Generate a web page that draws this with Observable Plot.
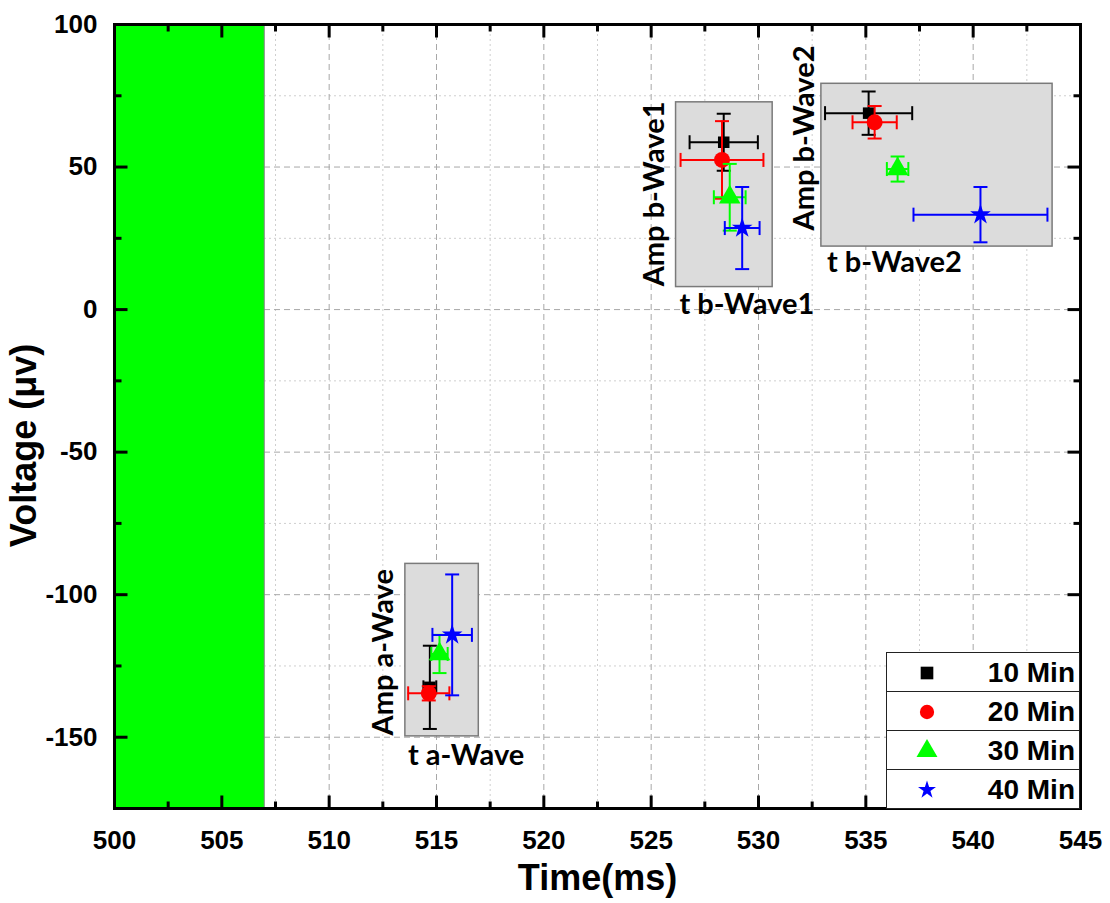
<!DOCTYPE html>
<html><head><meta charset="utf-8">
<script src="https://cdn.jsdelivr.net/npm/d3@7"></script>
<script src="https://cdn.jsdelivr.net/npm/@observablehq/plot@0.6"></script>
<style>
body{margin:0;background:#fff;}
#wrap{position:relative;width:1110px;height:903px;}
.legrow{position:absolute;box-sizing:border-box;border:1.5px solid #222;background:#fff;height:40px;}
.legrow svg{position:absolute;left:25px;top:4px;}
.legrow span{position:absolute;right:4px;top:1px;font:bold 28px "Liberation Sans",Arial,sans-serif;line-height:38px;color:#000;}
</style></head><body><div id="wrap"></div>
<script>
// ---------- data ----------
const waves = ["a-Wave", "b-Wave1", "b-Wave2"];
const seriesNames = ["10 Min", "20 Min", "30 Min", "40 Min"];
const seriesColors = ["#000000", "#ff0000", "#00ff00", "#0000ff"];
const seriesSymbols = ["square", "circle", "triangle", "star"];

// implicit time (ms) per wave, with error
const t10 = [514.69, 528.38, 535.13];
const t10Err = [0.30, 1.59, 2.03];
const t20 = [514.64, 528.30, 535.41];
const t20Err = [0.96, 1.93, 1.03];
const t30 = [515.14, 528.66, 536.48];
const t30Err = [0.38, 0.74, 0.50];
const t40 = [515.73, 529.24, 540.34];
const t40Err = [0.92, 0.81, 3.12];

// amplitude (µV) per wave, with error
const amp10 = [-132.5, 58.7, 68.9];
const amp10Err = [14.6, 10.0, 7.6];
const amp20 = [-134.6, 52.5, 65.7];
const amp20Err = [2.5, 13.6, 5.7];
const amp30 = [-120.8, 39.4, 49.3];
const amp30Err = [6.7, 11.7, 4.4];
const amp40 = [-114.1, 28.6, 33.3];
const amp40Err = [21.2, 14.4, 9.7];

// grey highlight boxes per wave
const boxX1 = [513.55, 526.16, 532.93];
const boxX2 = [516.97, 530.66, 543.70];
const boxY1 = [-149.7, 7.9, 22.1];
const boxY2 = [-89.2, 72.7, 79.2];

// annotation labels
const ampLabels = ["Amp a-Wave", "Amp b-Wave1", "Amp b-Wave2"];
const ampLabelX = [512.53, 525.15, 532.13];
const ampLabelY = [-120.2, 40.6, 60.2];
const tLabels = ["t a-Wave", "t b-Wave1", "t b-Wave2"];
const tLabelX = [516.38, 529.46, 536.33];
const tLabelY = [-156.6, 1.8, 16.5];

// shaded stimulus band
const bandX = [500, 507];

// axes
const xDomain = [500, 545];
const yDomain = [-175, 100];
const xMajor = [500, 505, 510, 515, 520, 525, 530, 535, 540, 545];
const xMinor = [502.5, 507.5, 512.5, 517.5, 522.5, 527.5, 532.5, 537.5, 542.5];
const yMajor = [-150, -100, -50, 0, 50, 100];
const yMinor = [-125, -75, -25, 25, 75];
const xTitle = "Time(ms)";
const yTitle = "Voltage (\u03bcv)";

// ---------- build ----------
const tAll = [t10, t20, t30, t40], tErrAll = [t10Err, t20Err, t30Err, t40Err];
const aAll = [amp10, amp20, amp30, amp40], aErrAll = [amp10Err, amp20Err, amp30Err, amp40Err];
const series = seriesNames.map((name, s) => ({
  name, color: seriesColors[s], symbol: seriesSymbols[s],
  rows: waves.map((w, i) => ({wave: w, t: tAll[s][i], te: tErrAll[s][i], a: aAll[s][i], ae: aErrAll[s][i]}))
}));
const boxes = waves.map((w, i) => ({x1: boxX1[i], x2: boxX2[i], y1: boxY1[i], y2: boxY2[i]}));
const ampL = ampLabels.map((l, i) => ({l, x: ampLabelX[i], y: ampLabelY[i]}));
const tL = tLabels.map((l, i) => ({l, x: tLabelX[i], y: tLabelY[i]}));

const seg = (dx1, dy1, dx2, dy2) => ({draw(ctx) { ctx.moveTo(dx1, dy1); ctx.lineTo(dx2, dy2); }});
const capH = seg(-7, 0, 7, 0);
const capV = seg(0, -7, 0, 7);
const MAJ = 13, MIN = 7;
const symR = {square: 6.5, circle: 8, triangle: 8, star: 6.5};

const tickMarks = [];
for (const [vals, len] of [[xMajor, MAJ], [xMinor, MIN]]) {
  tickMarks.push(Plot.dot(vals, {x: d => d, y: () => yDomain[0], symbol: seg(0, 0, 0, -len), r: 5, stroke: "black", strokeWidth: 3, fill: "none"}));
  tickMarks.push(Plot.dot(vals, {x: d => d, y: () => yDomain[1], symbol: seg(0, 0, 0, len), r: 5, stroke: "black", strokeWidth: 3, fill: "none"}));
}
for (const [vals, len] of [[yMajor, MAJ], [yMinor, MIN]]) {
  tickMarks.push(Plot.dot(vals, {y: d => d, x: () => xDomain[0], symbol: seg(0, 0, len, 0), r: 5, stroke: "black", strokeWidth: 3, fill: "none"}));
  tickMarks.push(Plot.dot(vals, {y: d => d, x: () => xDomain[1], symbol: seg(0, 0, -len, 0), r: 5, stroke: "black", strokeWidth: 3, fill: "none"}));
}

const seriesMarks = series.flatMap(S => {
  const r = S.rows, c = S.color;
  return [
    Plot.ruleY(r, {y: "a", x1: d => d.t - d.te, x2: d => d.t + d.te, stroke: c, strokeWidth: 2}),
    Plot.ruleX(r, {x: "t", y1: d => d.a - d.ae, y2: d => d.a + d.ae, stroke: c, strokeWidth: 2}),
    Plot.dot(r.flatMap(d => [{x: d.t - d.te, y: d.a}, {x: d.t + d.te, y: d.a}]), {x: "x", y: "y", symbol: capV, r: 5, stroke: c, strokeWidth: 2, fill: "none"}),
    Plot.dot(r.flatMap(d => [{x: d.t, y: d.a - d.ae}, {x: d.t, y: d.a + d.ae}]), {x: "x", y: "y", symbol: capH, r: 5, stroke: c, strokeWidth: 2, fill: "none"}),
    Plot.dot(r, {x: "t", y: "a", symbol: S.symbol, r: symR[S.symbol], fill: c, stroke: "none"})
  ];
});

const chart = Plot.plot({
  width: 1110, height: 903,
  marginLeft: 114, marginRight: 30, marginTop: 24, marginBottom: 95,
  x: {domain: xDomain},
  y: {domain: yDomain},
  style: {fontFamily: "'Liberation Sans', Arial, sans-serif", background: "white", color: "black"},
  marks: [
    Plot.ruleX(xMinor, {stroke: "#cfcfcf", strokeWidth: 1, strokeDasharray: "2,3"}),
    Plot.ruleY(yMinor, {stroke: "#cfcfcf", strokeWidth: 1, strokeDasharray: "2,3"}),
    Plot.ruleX(xMajor, {stroke: "#a8a8a8", strokeWidth: 1, strokeDasharray: "6,4"}),
    Plot.ruleY(yMajor, {stroke: "#a8a8a8", strokeWidth: 1, strokeDasharray: "6,4"}),
    Plot.rect([bandX], {x1: d => d[0], x2: d => d[1], y1: yDomain[0], y2: yDomain[1], fill: "#00ff00", stroke: "#888", strokeWidth: 1}),
    Plot.rect(boxes, {x1: "x1", x2: "x2", y1: "y1", y2: "y2", fill: "#dcdcdc", stroke: "#7a7a7a", strokeWidth: 1.5}),
    ...seriesMarks,
    Plot.text(ampL, {x: "x", y: "y", text: "l", rotate: -90, fontSize: 29, fontWeight: "bold", fontFamily: "Lato", fill: "black"}),
    Plot.text(tL, {x: "x", y: "y", text: "l", fontSize: 29, fontWeight: "bold", fontFamily: "Lato", fill: "black"}),
    Plot.axisX({ticks: xMajor, tickSize: 0, tickPadding: 22, fontSize: 26, fontWeight: "bold", label: null, tickFormat: d => String(d)}),
    Plot.axisY({ticks: yMajor, tickSize: 0, tickPadding: 17, fontSize: 26, fontWeight: "bold", label: null, tickFormat: d => String(d)}),
    Plot.text([xTitle], {text: d => d, frameAnchor: "bottom", textAnchor: "middle", dy: 70, fontSize: 36, fontWeight: "bold", lineAnchor: "middle"}),
    Plot.text([yTitle], {text: d => d, frameAnchor: "left", textAnchor: "middle", dx: -90, dy: 29, rotate: -90, fontSize: 36, fontWeight: "bold", lineAnchor: "middle"}),
    Plot.frame({stroke: "black", strokeWidth: 3}),
    ...tickMarks
  ]
});
const wrap = document.getElementById("wrap");
wrap.appendChild(chart);

// legend (inside plot area, lower right)
const legTop = [652, 691, 730, 769];
const legSizes = {square: 160, circle: 160, triangle: 190, star: 100};
const symMap = {square: d3.symbolSquare, circle: d3.symbolCircle, triangle: d3.symbolTriangle, star: d3.symbolStar};
series.forEach((S, i) => {
  const row = document.createElement("div");
  row.className = "legrow";
  row.style.left = "886px";
  row.style.top = legTop[i] + "px";
  row.style.width = "194px";
  const path = d3.symbol(symMap[S.symbol], legSizes[S.symbol])();
  row.innerHTML = `<svg width="30" height="30"><path d="${path}" transform="translate(15,16)" fill="${S.color}"/></svg><span>${S.name}</span>`;
  wrap.appendChild(row);
});
</script></body></html>
